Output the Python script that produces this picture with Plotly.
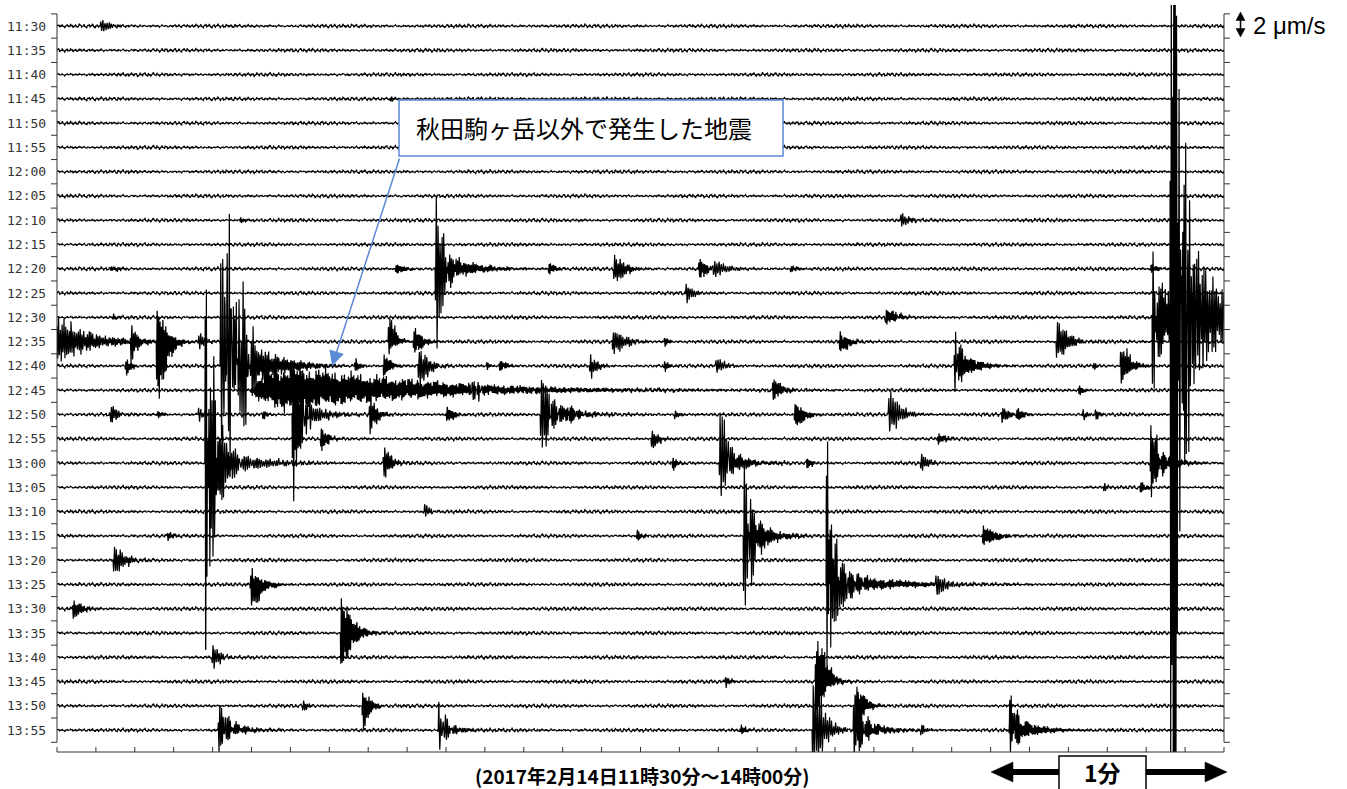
import numpy as np
import plotly.graph_objects as go

# ---- rows of the drum record (one row = 5 minutes) ----
row_labels = ["11:30", "11:35", "11:40", "11:45", "11:50", "11:55",
              "12:00", "12:05", "12:10", "12:15", "12:20", "12:25",
              "12:30", "12:35", "12:40", "12:45", "12:50", "12:55",
              "13:00", "13:05", "13:10", "13:15", "13:20", "13:25",
              "13:30", "13:35", "13:40", "13:45", "13:50", "13:55"]
ROW_SEC = 300          # seconds per row
SPS = 20               # samples per second
noise_level = 0.17     # background velocity, um/s

# ---- seismic events: row, onset (s into row), peak up / down (um/s),
#      rise time (s), decay time (s) ----
ev_row = (["11:30"] + ["11:45"] + ["12:10"] * 2 + ["12:20"] * 10 + ["12:25"]
          + ["12:30"] * 8 + ["12:35"] * 9 + ["12:40"] * 17 + ["12:45"] * 4
          + ["12:50"] * 18 + ["12:55"] * 3 + ["13:00"] * 12 + ["13:05"] * 2
          + ["13:10"] + ["13:15"] * 5 + ["13:20"] + ["13:25"] * 5 + ["13:30"]
          + ["13:35"] + ["13:40"] + ["13:45"] * 2 + ["13:50"] * 3 + ["13:55"] * 11)

ev_onset = [11.1,
            85.6,
            47.0, 216.7,
            13.6, 86.9, 97.2, 98.5, 126.2, 143.0, 164.8, 168.4, 188.4, 281.0,
            161.5,
            14.1, 212.9, 281.5, 282.0, 286.1, 286.6, 286.9, 288.3,
            18.8, 25.5, 36.2, 85.1, 91.5, 142.7, 156.0, 201.0, 256.8,
            17.5, 41.9, 43.0, 44.0, 46.0, 76.4, 83.8, 92.8, 110.3, 113.6, 136.8, 156.0, 169.2, 230.6, 231.0, 266.3, 273.3,
            49.6, 106.4, 183.8, 262.5,
            13.6, 25.7, 36.2, 52.7, 60.4, 61.0, 80.2, 100.0, 124.2, 125.0, 130.6, 158.6, 189.5, 213.6, 242.7, 246.5, 263.5, 266.8,
            67.6, 152.7, 226.2,
            38.0, 38.5, 38.9, 39.0, 83.8, 158.1, 170.2, 171.0, 192.6, 221.9, 281.0, 282.0,
            268.9, 278.4,
            94.3,
            28.3, 148.9, 176.4, 177.0, 237.8,
            14.4,
            49.6, 197.7, 198.2, 199.0, 225.7,
            3.9,
            72.8,
            39.8,
            171.7, 194.9,
            63.0, 78.4, 205.2,
            41.4, 42.0, 97.9, 98.5, 175.6, 194.1, 204.6, 205.0, 221.9, 244.7, 245.5]

ev_up = [0.5,
         0.2,
         0.25, 0.6,
         0.2, 0.35, 6.0, 1.0, 0.45, 1.2, 0.8, 0.6, 0.25, 0.35,
         0.8,
         0.25, 0.65, 5.4, 3.0, 25.7, 8.0, 20.0, 8.0,
         1.3, 2.5, 0.6, 1.9, 1.1, 0.8, 0.3, 0.7, 1.6,
         0.5, 10.4, 3.3, 7.0, 6.0, 0.6, 1.0, 1.2, 0.25, 0.4, 1.0, 0.4, 0.6, 3.0, 1.0, 0.3, 1.5,
         2.2, 1.0, 0.8, 0.4,
         0.7, 0.3, 0.6, 0.3, 3.6, 1.5, 1.6, 0.6, 2.8, 1.0, 0.8, 0.35, 0.9, 1.9, 0.6, 0.5, 0.4, 0.35,
         0.75, 0.7, 0.45,
         14.3, 4.5, 6.0, 1.2, 1.3, 0.5, 4.0, 1.0, 0.4, 0.7, 3.1, 1.0,
         0.4, 0.4,
         0.6,
         0.3, 0.4, 6.1, 2.0, 0.8,
         1.0,
         1.3, 11.7, 3.5, 0.8, 0.8,
         0.7,
         2.9,
         1.0,
         0.4, 3.3,
         0.4, 1.1, 1.5,
         2.1, 0.6, 2.3, 0.5, 0.4, 3.7, 3.3, 0.8, 0.4, 2.9, 0.8]

ev_down = [0.45,
           0.2,
           0.2, 0.5,
           0.2, 0.35, 6.5, 1.0, 0.45, 1.0, 0.7, 0.6, 0.25, 0.35,
           0.65,
           0.25, 0.5, 5.9, 3.0, 35.8, 8.0, 28.0, 10.0,
           1.9, 4.7, 0.6, 1.0, 0.8, 1.0, 0.3, 0.8, 1.4,
           0.8, 6.1, 3.3, 6.0, 6.0, 0.4, 0.8, 1.7, 0.25, 0.4, 1.0, 0.4, 0.5, 2.1, 1.0, 0.3, 1.5,
           1.8, 0.8, 0.8, 0.4,
           0.7, 0.3, 0.6, 0.3, 7.1, 1.5, 1.7, 0.6, 2.8, 1.0, 0.6, 0.35, 0.9, 1.4, 0.6, 0.5, 0.4, 0.35,
           1.1, 0.7, 0.45,
           15.4, 6.5, 11.0, 1.2, 1.2, 0.5, 2.7, 1.0, 0.4, 0.7, 3.0, 1.0,
           0.4, 0.4,
           0.5,
           0.3, 0.4, 5.8, 2.5, 0.8,
           1.0,
           1.8, 7.0, 4.5, 0.8, 0.8,
           0.7,
           2.5,
           1.0,
           0.4, 2.5,
           0.4, 2.0, 1.5,
           1.8, 0.6, 1.6, 0.5, 0.4, 2.5, 2.1, 0.8, 0.4, 1.8, 0.8]

ev_rise = [0.2,
           0.2,
           0.2, 0.2,
           0.2, 0.2, 0.2, 0.5, 0.2, 0.2, 0.2, 0.2, 0.2, 0.2,
           0.2,
           0.2, 0.2, 0.1, 0.3, 0.2, 0.5, 0.2, 0.2,
           0.2, 0.2, 0.2, 0.2, 0.2, 0.2, 0.2, 0.2, 0.2,
           0.2, 0.2, 0.5, 0.2, 0.2, 0.2, 0.2, 0.2, 0.2, 0.2, 0.2, 0.2, 0.2, 0.2, 0.3, 0.2, 0.2,
           6.0, 0.2, 0.2, 0.2,
           0.2, 0.2, 0.2, 0.2, 0.2, 0.3, 0.2, 0.2, 0.2, 0.3, 0.2, 0.2, 0.2, 0.2, 0.2, 0.2, 0.2, 0.2,
           0.2, 0.2, 0.2,
           0.1, 0.3, 0.2, 0.5, 0.2, 0.2, 0.2, 0.3, 0.2, 0.2, 0.2, 0.3,
           0.2, 0.2,
           0.2,
           0.2, 0.2, 0.2, 0.3, 0.2,
           0.2,
           0.2, 0.1, 0.3, 0.5, 0.2,
           0.2,
           0.2,
           0.2,
           0.2, 0.2,
           0.2, 0.2, 0.2,
           0.2, 0.3, 0.2, 0.3, 0.2, 0.2, 0.2, 0.3, 0.2, 0.2, 0.3]

ev_decay = [2.0,
            1.0,
            1.0, 2.0,
            2.0, 2.0, 1.5, 7.0, 1.5, 2.5, 2.0, 3.0, 1.5, 1.5,
            1.5,
            1.0, 2.5, 0.8, 6.0, 2.0, 8.0, 1.2, 1.5,
            1.5, 2.0, 1.5, 1.5, 2.0, 3.0, 1.0, 2.0, 2.5,
            1.0, 2.5, 8.0, 2.0, 2.0, 1.0, 1.5, 2.0, 1.0, 1.5, 1.5, 1.0, 2.0, 1.0, 4.0, 1.0, 2.0,
            30.0, 1.5, 2.0, 1.0,
            1.5, 1.0, 1.0, 1.0, 1.5, 5.0, 1.5, 1.5, 2.0, 6.0, 2.0, 1.0, 2.0, 2.5, 1.5, 1.5, 1.0, 1.0,
            1.5, 1.5, 1.5,
            0.8, 3.0, 1.5, 10.0, 1.5, 1.0, 1.5, 5.0, 1.0, 1.5, 1.2, 4.0,
            1.0, 1.0,
            1.0,
            1.0, 1.0, 1.2, 4.0, 3.0,
            2.5,
            2.5, 0.8, 3.0, 15.0, 2.0,
            2.0,
            2.5,
            1.5,
            1.0, 2.0,
            1.0, 1.5, 2.0,
            1.5, 5.0, 1.5, 4.0, 1.0, 2.5, 2.0, 6.0, 1.0, 1.5, 6.0]

assert len({len(ev_row), len(ev_onset), len(ev_up), len(ev_down),
            len(ev_rise), len(ev_decay)}) == 1

# ---- build one continuous velocity record for the whole 150 minutes ----
n_rows = len(row_labels)
n_samp = n_rows * ROW_SEC * SPS + 1
t = np.arange(n_samp) / SPS
vel = noise_level * (0.45 * np.sin(2 * np.pi * 0.9 * t)
                     + 0.25 * np.sin(2 * np.pi * 2.3 * t + 1.1)
                     + 0.20 * np.sin(2 * np.pi * 3.7 * t + 2.3)
                     + 0.15 * np.sin(2 * np.pi * 5.3 * t + 0.7)
                     + 0.20 * np.sin(2 * np.pi * 0.37 * t + 0.2)) \
    * (0.75 + 0.25 * np.sin(2 * np.pi * 0.031 * t))

for k, (lab, on, up, dn, rise, dec) in enumerate(
        zip(ev_row, ev_onset, ev_up, ev_down, ev_rise, ev_decay)):
    t0 = row_labels.index(lab) * ROW_SEC + on
    i0 = int(round(t0 * SPS))
    i1 = min(n_samp, i0 + int((rise + 8 * dec) * SPS) + 1)
    tau = t[i0:i1] - t[i0]
    env = (1 - np.exp(-tau / rise)) * np.exp(-tau / dec)
    freq = 1.8 + 1.2 * ((k * 37) % 11) / 10
    mod = (np.abs(np.cos(2 * np.pi * 0.23 * tau))
           + np.abs(np.cos(2 * np.pi * 0.61 * tau + 1.3 * k))
           + np.abs(np.cos(2 * np.pi * 1.37 * tau + 2.1 * k))) / 3
    car = np.sin(2 * np.pi * freq * tau + 0.3 + 1.7 * k) * (0.3 + 0.7 * mod ** 2)
    seg = env * car
    # scale so the largest swing each way equals the listed peak
    vel[i0:i1] += np.where(seg > 0, seg / seg.max() * up, seg / -seg.min() * dn)

UM_PER_ROW = 2.0   # 2 um/s spans one row spacing

# ---- page geometry (pixels) ----
W, H = 1347, 789
L, R, T, B = 57, 1224, 5, 752
Y_TOP, Y_BOT = 0.865, -29.9


def fx(px):
    return (px - L) / (R - L)


def fy(py):
    return (B - py) / (B - T)


def yv(v):
    return (v - Y_BOT) / (Y_TOP - Y_BOT)


fig = go.Figure()
xs = np.arange(ROW_SEC * SPS + 1) / SPS
for i in range(n_rows):
    seg = vel[i * ROW_SEC * SPS: (i + 1) * ROW_SEC * SPS + 1]
    fig.add_trace(go.Scatter(x=xs, y=-i + seg / UM_PER_ROW, mode="lines",
                             line=dict(color="black", width=1.2),
                             hoverinfo="skip", showlegend=False))

shapes = []
ax_col = "#333333"
# left and right frame with ticks between rows
for xa, xb in ((0, fx(51)), (1, fx(1230))):
    shapes.append(dict(type="line", xref="paper", yref="paper",
                       x0=xa, x1=xa, y0=yv(0.5), y1=yv(-29.5),
                       line=dict(color=ax_col, width=1)))
    for j in range(n_rows + 1):
        yy = yv(0.5 - j)
        shapes.append(dict(type="line", xref="paper", yref="paper",
                           x0=xa, x1=xb, y0=yy, y1=yy,
                           line=dict(color=ax_col, width=1)))
# time axis, tick every 10 s
shapes.append(dict(type="line", xref="paper", yref="paper", x0=0, x1=1,
                   y0=0, y1=0, line=dict(color=ax_col, width=1)))
for s in range(0, ROW_SEC + 1, 10):
    shapes.append(dict(type="line", xref="paper", yref="paper",
                       x0=s / ROW_SEC, x1=s / ROW_SEC, y0=0, y1=fy(747),
                       line=dict(color=ax_col, width=1)))

# callout box
blue = "#5a8ad4"
shapes.append(dict(type="rect", xref="paper", yref="paper",
                   x0=fx(399), x1=fx(783), y0=fy(156), y1=fy(100),
                   line=dict(color=blue, width=1.5), fillcolor="white"))

# amplitude scale arrow (double headed)
shapes.append(dict(type="line", xref="paper", yref="paper",
                   x0=fx(1240.5), x1=fx(1240.5), y0=fy(19), y1=fy(30),
                   line=dict(color="black", width=1.5)))
for tip, base in ((12, 20.5), (37, 28.5)):
    shapes.append(dict(type="path", xref="paper", yref="paper",
                       path=f"M {fx(1236)},{fy(base)} L {fx(1245)},{fy(base)} "
                            f"L {fx(1240.5)},{fy(tip)} Z",
                       fillcolor="black", line=dict(color="black", width=0.5)))

# one-minute bar
shapes.append(dict(type="rect", xref="paper", yref="paper",
                   x0=fx(1008), x1=fx(1210), y0=fy(775), y1=fy(769),
                   fillcolor="black", line=dict(width=0)))
for tip, base in ((991, 1013), (1227, 1205)):
    shapes.append(dict(type="path", xref="paper", yref="paper",
                       path=f"M {fx(base)},{fy(762)} L {fx(base)},{fy(782)} "
                            f"L {fx(tip)},{fy(772)} Z",
                       fillcolor="black", line=dict(color="black", width=0.5)))
shapes.append(dict(type="rect", xref="paper", yref="paper",
                   x0=fx(1059), x1=fx(1146), y0=fy(800), y1=fy(756),
                   fillcolor="white", line=dict(color="black", width=1.5)))

annotations = []
for i, lab in enumerate(row_labels):
    annotations.append(dict(xref="paper", yref="paper", x=fx(48), y=yv(-i),
                            xanchor="right", yanchor="middle", text=lab,
                            showarrow=False,
                            font=dict(family="DejaVu Sans Mono", size=13,
                                      color="#333333")))

jp = "Noto Sans CJK JP"
annotations += [
    dict(xref="paper", yref="paper", x=fx(584), y=fy(127),
         xanchor="center", yanchor="middle",
         text="秋田駒ヶ岳以外で発生した地震", showarrow=False,
         font=dict(family=jp, size=24, color="black")),
    dict(xref="paper", yref="paper", x=fx(332), y=fy(366), text="",
         showarrow=True, ax=68, ay=-209, arrowhead=2, arrowsize=2,
         arrowwidth=1.5, arrowcolor=blue),
    dict(xref="paper", yref="paper", x=fx(1251), y=fy(25),
         xanchor="left", yanchor="middle",
         text="2 μm/s", showarrow=False,
         font=dict(family="Liberation Sans", size=24, color="black")),
    dict(xref="paper", yref="paper", x=fx(1102), y=fy(772),
         xanchor="center", yanchor="middle",
         text="<b>1分</b>", showarrow=False,
         font=dict(family=jp, size=23, color="black")),
    dict(xref="paper", yref="paper", x=fx(642), y=fy(775),
         xanchor="center", yanchor="middle",
         text="<b>(2017年2月14日11時30分～14時00分)</b>", showarrow=False,
         font=dict(family=jp, size=19, color="black")),
]

fig.update_layout(
    width=W, height=H, margin=dict(l=L, r=W - R, t=T, b=H - B),
    paper_bgcolor="white", plot_bgcolor="white",
    xaxis=dict(range=[0, ROW_SEC], visible=False, fixedrange=True),
    yaxis=dict(range=[Y_BOT, Y_TOP], visible=False, fixedrange=True),
    shapes=shapes, annotations=annotations, showlegend=False,
)

fig.write_html("out.html")
